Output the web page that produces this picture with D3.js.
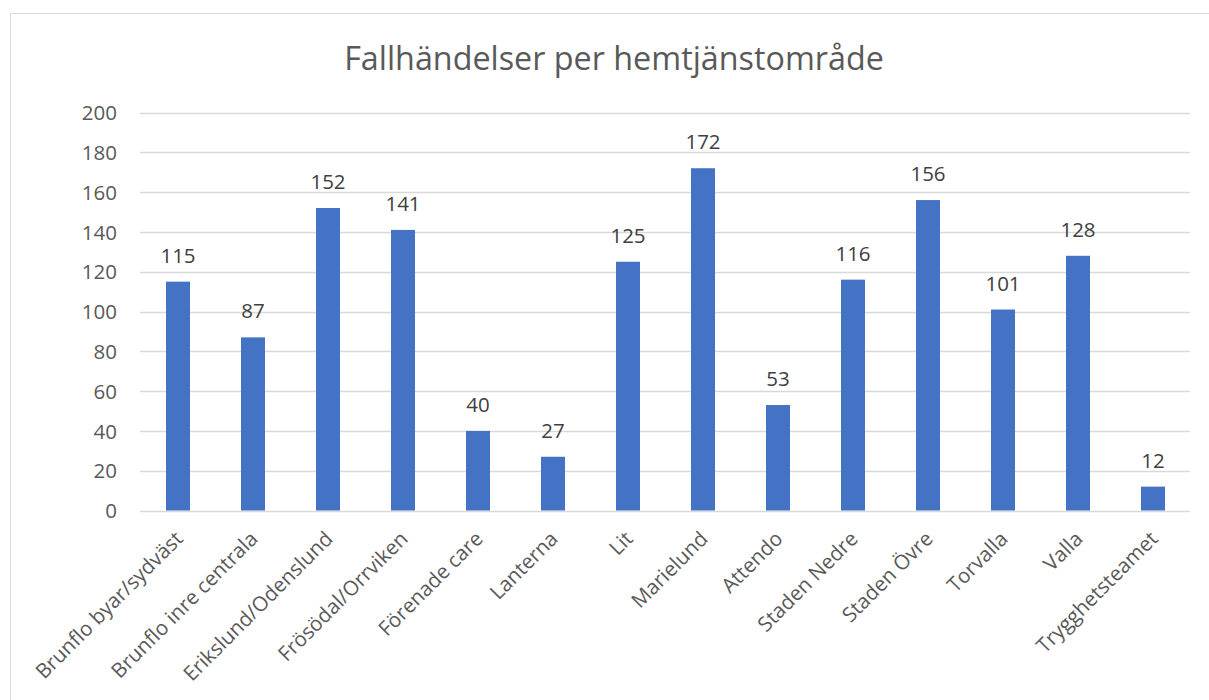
<!DOCTYPE html>
<html><head><meta charset="utf-8">
<script src="https://cdn.jsdelivr.net/npm/d3@7"></script>
<style>body{margin:0;background:#fff}svg{display:block}text{font-family:"Open Sans","Noto Sans",sans-serif}</style>
</head><body><svg id="c" width="1209" height="700"></svg>
<script>
const title = "Fallhändelser per hemtjänstområde";
const categories = ["Brunflo byar/sydväst","Brunflo inre centrala","Erikslund/Odenslund","Frösödal/Orrviken","Förenade care","Lanterna","Lit","Marielund","Attendo","Staden Nedre","Staden Övre","Torvalla","Valla","Trygghetsteamet"];
const values = [115,87,152,141,40,27,125,172,53,116,156,101,128,12];
const yTicks = [0,20,40,60,80,100,120,140,160,180,200];

const svg = d3.select("#c");
svg.append("rect").attr("x",10.5).attr("y",13.5).attr("width",1210).attr("height",700)
  .attr("fill","#fff").attr("stroke","#d9d9d9").attr("stroke-width",1);

const x = d3.scaleBand().domain(categories).range([140.5,1190.5]).paddingInner(0.68).paddingOuter(0.34);
const y = d3.scaleLinear().domain([0,200]).range([510.5,112.5]);

svg.append("text").attr("x",614).attr("y",70).attr("text-anchor","middle")
  .attr("font-size",32.3).attr("fill","#595959").text(title);

const grid = svg.append("g");
grid.selectAll("line").data(yTicks).join("line")
  .attr("x1",140).attr("x2",1190).attr("y1",d=>Math.round(y(d))+0.5).attr("y2",d=>Math.round(y(d))+0.5)
  .attr("stroke","#d9d9d9").attr("stroke-width",1.5);

const yAxis = d3.axisLeft(y).tickValues(yTicks).tickSize(0).tickPadding(0);
svg.append("g").attr("transform","translate(117,0)").call(yAxis)
  .call(g=>g.select(".domain").remove())
  .call(g=>g.selectAll("text").attr("font-size",20.5).attr("fill","#595959").attr("font-family","'Open Sans',sans-serif").attr("dy","0.35em"));

svg.append("g").selectAll("rect").data(values).join("rect")
  .attr("x",(d,i)=>x(categories[i])).attr("width",x.bandwidth())
  .attr("y",d=>y(d)).attr("height",d=>y(0)-y(d)).attr("fill","#4472c4");

svg.append("g").selectAll("text").data(values).join("text")
  .attr("x",(d,i)=>x(categories[i])+x.bandwidth()/2).attr("y",d=>y(d)-19)
  .attr("text-anchor","middle").attr("font-size",20.5).attr("fill","#404040").text(d=>d);

const xAxis = d3.axisBottom(x).tickSize(0).tickPadding(0);
svg.append("g").attr("transform","translate(0,510)").call(xAxis)
  .call(g=>g.select(".domain").remove())
  .call(g=>g.selectAll(".tick text").attr("font-size",20.5).attr("fill","#595959")
    .attr("font-family","'Open Sans',sans-serif")
    .attr("text-anchor","end").attr("dy","0.35em")
    .attr("transform","translate(1,25) rotate(-45)"));
</script></body></html>
